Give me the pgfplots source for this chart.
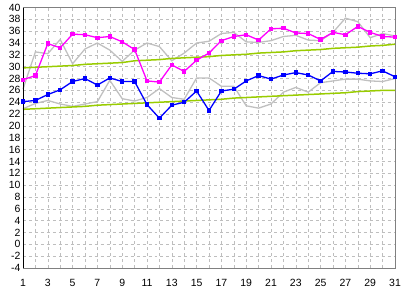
\documentclass[border=0pt]{standalone}
\usepackage{fontspec}
\setmainfont{Liberation Sans}
\usepackage{pgfplots}
\pgfplotsset{compat=1.18}
\definecolor{gridgray}{RGB}{190,190,190}
\definecolor{oldgray}{RGB}{192,192,192}
\definecolor{normgreen}{RGB}{153,204,0}
\definecolor{maxmag}{RGB}{255,0,255}
\definecolor{minblue}{RGB}{0,0,255}
\begin{document}
\begin{tikzpicture}
\path[use as bounding box] (-23bp,-23bp) rectangle (380bp,268bp);
\begin{axis}[
  scale only axis,
  width=372bp, height=260.5bp,
  at={(0,0)}, anchor=south west,
  xmin=1, xmax=31, ymin=-4, ymax=40,
  xtick={1,3,...,31},
  minor xtick={2,4,...,30},
  ytick={-4,-2,...,40},
  grid=both,
  major grid style={gridgray, dashed, line width=0.5bp},
  minor grid style={gridgray, dashed, line width=0.5bp},
  major tick length=0pt, minor tick length=0pt,
  axis line style={draw=gray, line width=0.9bp},
  tick label style={font=\fontsize{10.5}{11}\selectfont},
  /pgf/number format/assume math mode=true,
  xticklabel style={yshift=-7.5bp},
  yticklabel style={xshift=1bp},
  clip=false,
]
% last year (gray)
\addplot[oldgray, line width=1.3bp] coordinates {
(1,26.2)(2,32.5)(3,32.2)(4,34.6)(5,30.5)(6,33.0)(7,34.0)(8,32.8)(9,30.9)(10,32.8)
(11,34.0)(12,33.4)(13,31.0)(14,32.3)(15,34.0)(16,34.3)(17,35.6)(18,35.8)(19,34.2)(20,34.1)
(21,34.4)(22,35.1)(23,35.3)(24,34.5)(25,34.4)(26,35.8)(27,38.2)(28,37.6)(29,34.9)(30,35.6)(31,35.2)};
\addplot[oldgray, line width=1.3bp] coordinates {
(1,22.9)(2,23.8)(3,24.3)(4,23.7)(5,23.3)(6,23.7)(7,24.1)(8,27.7)(9,24.6)(10,24.2)
(11,24.8)(12,26.3)(13,24.8)(14,24.5)(15,28.1)(16,28.1)(17,26.7)(18,26.7)(19,23.4)(20,23.0)
(21,23.7)(22,25.7)(23,26.5)(24,25.7)(25,27.3)(26,27.6)(27,27.9)(28,27.9)(29,27.6)(30,27.5)(31,28.0)};
% normals (green)
\addplot[normgreen, line width=1.5bp] coordinates {
(1,29.8)(2,29.9)(3,30.0)(4,30.1)(5,30.2)(6,30.4)(7,30.5)(8,30.6)(9,30.7)(10,31.0)
(11,31.1)(12,31.2)(13,31.4)(14,31.5)(15,31.6)(16,31.7)(17,31.9)(18,32.0)(19,32.1)(20,32.3)
(21,32.4)(22,32.5)(23,32.7)(24,32.8)(25,32.9)(26,33.1)(27,33.2)(28,33.3)(29,33.5)(30,33.6)(31,33.8)};
\addplot[normgreen, line width=1.5bp] coordinates {
(1,22.8)(2,22.9)(3,23.0)(4,23.1)(5,23.2)(6,23.3)(7,23.5)(8,23.6)(9,23.7)(10,23.8)
(11,23.9)(12,24.0)(13,24.1)(14,24.2)(15,24.3)(16,24.4)(17,24.5)(18,24.7)(19,24.8)(20,24.9)
(21,25.0)(22,25.1)(23,25.2)(24,25.3)(25,25.4)(26,25.5)(27,25.6)(28,25.8)(29,25.9)(30,26.0)(31,26.0)};
% min (blue)
\addplot[minblue, line width=1.3bp, mark=square*, mark size=1.5bp, mark options={solid}] coordinates {
(1,24.1)(2,24.3)(3,25.3)(4,26.1)(5,27.5)(6,28.0)(7,26.9)(8,28.1)(9,27.5)(10,27.5)
(11,23.6)(12,21.3)(13,23.5)(14,24.0)(15,25.9)(16,22.6)(17,25.9)(18,26.2)(19,27.6)(20,28.5)
(21,27.9)(22,28.6)(23,29.0)(24,28.6)(25,27.6)(26,29.2)(27,29.1)(28,28.9)(29,28.8)(30,29.3)(31,28.3)};
% max (magenta)
\addplot[maxmag, line width=1.3bp, mark=square*, mark size=1.5bp, mark options={solid}] coordinates {
(1,27.8)(2,28.5)(3,33.9)(4,33.2)(5,35.5)(6,35.4)(7,34.9)(8,35.1)(9,34.2)(10,32.9)
(11,27.6)(12,27.4)(13,30.3)(14,29.2)(15,31.1)(16,32.3)(17,34.4)(18,35.1)(19,35.4)(20,34.5)
(21,36.4)(22,36.5)(23,35.7)(24,35.6)(25,34.6)(26,35.8)(27,35.4)(28,36.8)(29,35.8)(30,35.1)(31,35.0)};
\draw[black, line width=0.9bp] (rel axis cs:0,1) -- (rel axis cs:0,0);
\end{axis}
\end{tikzpicture}
\end{document}
